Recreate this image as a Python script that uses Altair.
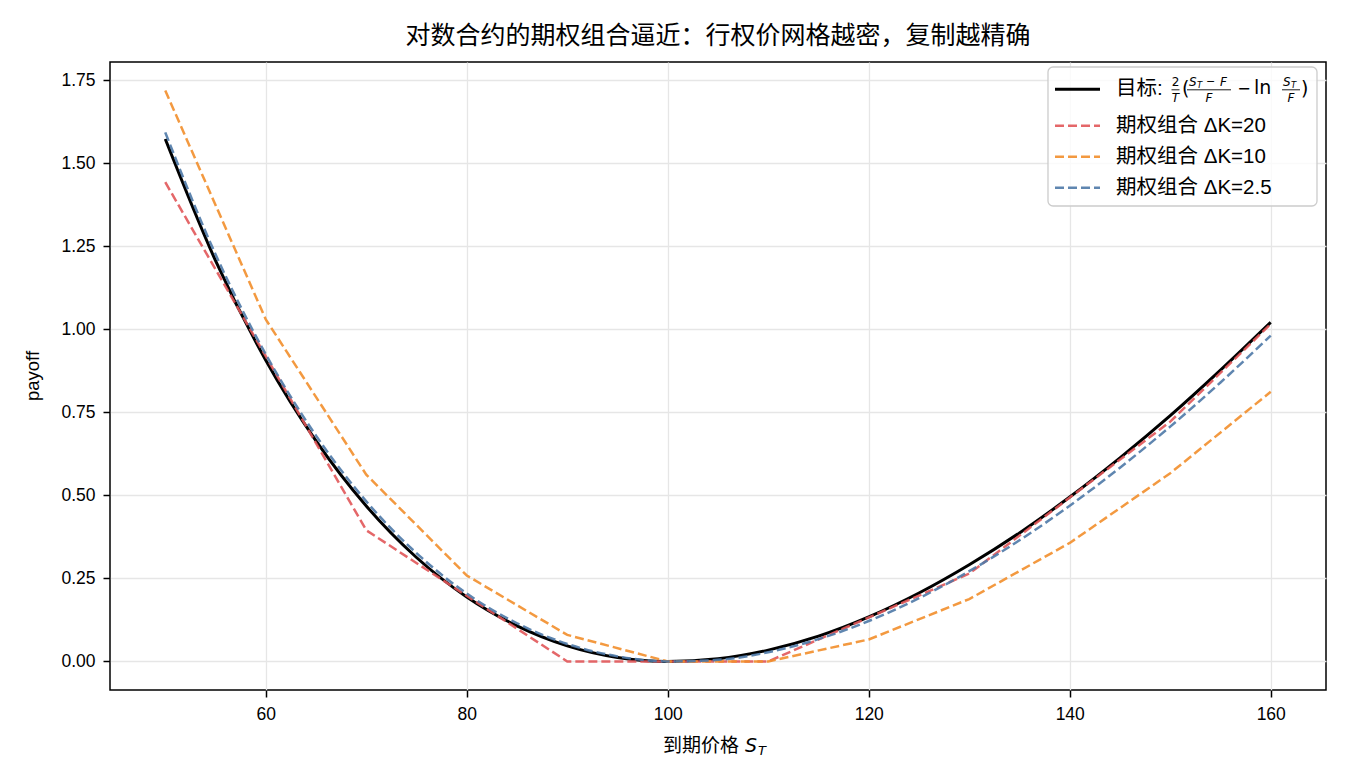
import altair as alt
import pandas as pd

# ---------------- data ----------------
S_FINE = [50, 55, 60, 65, 70, 75, 80, 85, 90, 95, 100, 105, 110, 115, 120, 125,
          130, 135, 140, 145, 150, 155, 160]
TARGET = [1.573, 1.207, 0.907, 0.664, 0.468, 0.313, 0.194, 0.107, 0.047, 0.012,
          0.000, 0.008, 0.034, 0.076, 0.134, 0.206, 0.291, 0.387, 0.495, 0.613,
          0.740, 0.877, 1.021]
BLUE_25 = [1.593, 1.226, 0.925, 0.680, 0.482, 0.326, 0.2045, 0.115, 0.0527, 0.0153,
           0.000, 0.0048, 0.0277, 0.0672, 0.1217, 0.1904, 0.2717, 0.3648, 0.469,
           0.5834, 0.7072, 0.840, 0.981]
S_RED = [50, 70, 90, 110, 130, 150, 160]
RED_20 = [1.443, 0.395, 0.000, 0.000, 0.2645, 0.722, 1.016]
S_ORANGE = [50, 60, 70, 80, 90, 100, 110, 120, 130, 140, 150, 160]
ORANGE_10 = [1.719, 1.030, 0.5625, 0.2588, 0.080, 0.000, 0.000, 0.0661, 0.1878,
             0.3568, 0.5667, 0.812]

X_TICKS = [60, 80, 100, 120, 140, 160]
Y_TICKS = [0.0, 0.25, 0.5, 0.75, 1.0, 1.25, 1.5, 1.75]
X_DOMAIN = [44.5, 165.5]
Y_DOMAIN = [-0.086, 1.805]

TITLE = "对数合约的期权组合逼近：行权价网格越密，复制越精确"
LEG_LABELS = ["期权组合 ΔK=20", "期权组合 ΔK=10", "期权组合 ΔK=2.5"]

RED_C = "#e15759"
ORANGE_C = "#f28e2b"
BLUE_C = "#4e79a7"

FONT = "Liberation Sans, Noto Sans CJK SC"
CJK = "Noto Sans CJK SC"
MATH = "DejaVu Sans"

# ---------------- layout ----------------
OX, OY = 110, 62          # plot-area origin in page pixels
W, H = 1216, 628

DASH = [9, 4]
DW = 2.5


def frame(s, v):
    return pd.DataFrame({"S": s, "payoff": v})


xenc = alt.X("S:Q",
             scale=alt.Scale(domain=X_DOMAIN, nice=False, zero=False),
             axis=alt.Axis(values=X_TICKS, title=None, format="d"))
yenc = alt.Y("payoff:Q",
             scale=alt.Scale(domain=Y_DOMAIN, nice=False, zero=False),
             axis=alt.Axis(values=Y_TICKS, title=None, format=".2f"))

black = alt.Chart(frame(S_FINE, TARGET)).mark_line(
    color="black", strokeWidth=3, interpolate="monotone").encode(x=xenc, y=yenc)
red = alt.Chart(frame(S_RED, RED_20)).mark_line(
    color=RED_C, strokeWidth=DW, strokeDash=DASH, opacity=0.9).encode(x=xenc, y=yenc)
orange = alt.Chart(frame(S_ORANGE, ORANGE_10)).mark_line(
    color=ORANGE_C, strokeWidth=DW, strokeDash=DASH, opacity=0.9).encode(x=xenc, y=yenc)
blue = alt.Chart(frame(S_FINE, BLUE_25)).mark_line(
    color=BLUE_C, strokeWidth=DW, strokeDash=DASH, opacity=0.9,
    interpolate="monotone").encode(x=xenc, y=yenc)

one = pd.DataFrame({"k": [0]})


def txt(text, x, y, size, align="left", italic=False, font=FONT, angle=0, baseline="middle"):
    return alt.Chart(one).mark_text(
        text=text, align=align, baseline=baseline, fontSize=size,
        fontStyle="italic" if italic else "normal", font=font, color="black",
        angle=angle).encode(x=alt.value(x - OX), y=alt.value(y - OY))


def hline(x1, x2, y, color, width, dash=None, opacity=1.0):
    kw = dict(color=color, strokeWidth=width, opacity=opacity)
    if dash:
        kw["strokeDash"] = dash
    return alt.Chart(one).mark_rule(**kw).encode(
        x=alt.value(x1 - OX), x2=alt.value(x2 - OX), y=alt.value(y - OY))


layers = [black, red, orange, blue]

# title
layers.append(txt(TITLE, OX + W / 2, 36, 25, align="center", font=CJK))
# axis titles
layers.append(txt("到期价格", 739, 746, 19, align="right", font=CJK))
layers.append(txt("S", 745, 746, 19, italic=True, font=MATH))
layers.append(txt("T", 758, 751, 13, italic=True, font=MATH))
layers.append(txt("payoff", 33, OY + H / 2, 18.5, align="center", angle=270))

# legend box
layers.append(alt.Chart(one).mark_rect(
    fill="white", fillOpacity=0.8, stroke="#cccccc", strokeWidth=1.3, cornerRadius=5
).encode(x=alt.value(1048 - OX), x2=alt.value(1317 - OX),
         y=alt.value(67 - OY), y2=alt.value(206 - OY)))

ROW_Y = [89.3, 125.7, 156.7, 187.7]
LX1, LX2, TX = 1055, 1100, 1116
LFS = 20.5
layers.append(hline(LX1, LX2, ROW_Y[0], "black", 3))
for yy, col, lab in zip(ROW_Y[1:], [RED_C, ORANGE_C, BLUE_C], LEG_LABELS):
    layers.append(hline(LX1, LX2, yy, col, DW, dash=DASH, opacity=0.9))
    layers.append(txt(lab, TX, yy, LFS))

# row-1 label with the formula
layers.append(txt("目标:", TX, ROW_Y[0], LFS))
layers.append(txt("2", 1175.5, 81.5, 12, align="center", font=MATH))
layers.append(hline(1171.5, 1179.5, 89.8, "black", 0.9))
layers.append(txt("T", 1175.5, 97.5, 12, align="center", italic=True, font=MATH))
layers.append(txt("(", 1182, 89, 19, font=MATH))
layers.append(txt("S", 1189, 81.5, 12, italic=True, font=MATH))
layers.append(txt("T", 1197, 84.5, 8.5, italic=True, font=MATH))
layers.append(txt("−", 1210.5, 81.5, 11, align="center", font=MATH))
layers.append(txt("F", 1220, 81.5, 12, italic=True, font=MATH))
layers.append(hline(1187, 1231, 89.8, "black", 0.9))
layers.append(txt("F", 1209, 97.5, 12, align="center", italic=True, font=MATH))
layers.append(txt("−", 1244, 89, 16, align="center", font=MATH))
layers.append(txt("ln", 1254, 88, 19, font=MATH))
layers.append(txt("S", 1283, 81.5, 12, italic=True, font=MATH))
layers.append(txt("T", 1291, 84.5, 8.5, italic=True, font=MATH))
layers.append(hline(1282, 1300, 89.8, "black", 0.9))
layers.append(txt("F", 1291, 97.5, 12, align="center", italic=True, font=MATH))
layers.append(txt(")", 1301, 89, 19, font=MATH))

chart = alt.layer(*layers).properties(
    width=W, height=H,
    padding={"left": OX, "top": OY, "right": 1350 - OX - W, "bottom": 780 - OY - H},
    autosize=alt.AutoSizeParams(type="none"),
    background="white",
).configure_view(
    stroke="black", strokeWidth=1.5
).configure_axis(
    grid=True, gridColor="#e6e6e6", gridWidth=1.3,
    domain=False, ticks=True, tickColor="black", tickWidth=1.5, tickSize=7,
    labelFont=FONT, labelFontSize=17.5, labelColor="black", labelPadding=8,
)

chart.save("out.html", embed_options={"renderer": "svg", "actions": False})
